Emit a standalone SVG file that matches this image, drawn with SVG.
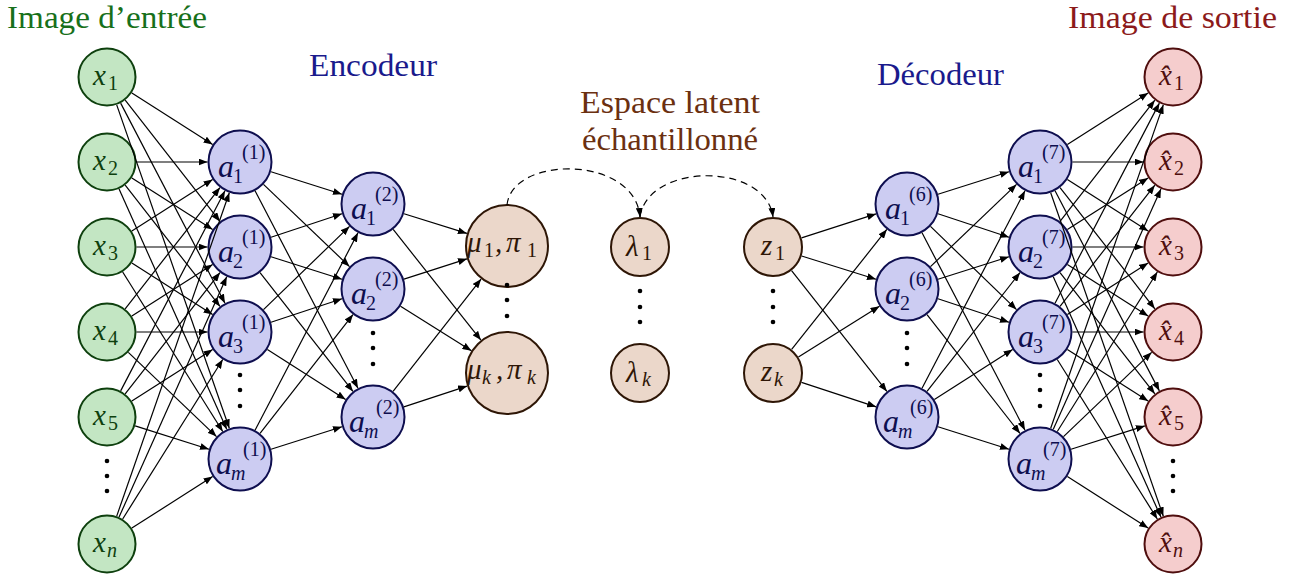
<svg xmlns="http://www.w3.org/2000/svg" width="1298" height="574" viewBox="0 0 1298 574" font-family="Liberation Serif">
<defs>
<marker id="ah" markerUnits="userSpaceOnUse" viewBox="0 0 9 7" refX="9" refY="3.5" markerWidth="9" markerHeight="7" orient="auto">
<path d="M0,0 L9,3.5 L0,7 Z" fill="#000"/>
</marker>
</defs>

<g id="titles" font-size="32">
<text font-family="Liberation Serif" font-size="32" x="7" y="28" fill="#17701a" textLength="200" lengthAdjust="spacingAndGlyphs">Image d’entrée</text>
<text font-family="Liberation Serif" font-size="32" x="309" y="76" fill="#1a1a8c" textLength="128" lengthAdjust="spacingAndGlyphs">Encodeur</text>
<text font-family="Liberation Serif" font-size="32" x="580" y="113" fill="#6b3010" textLength="180" lengthAdjust="spacingAndGlyphs">Espace latent</text>
<text font-family="Liberation Serif" font-size="32" x="582" y="150" fill="#6b3010" textLength="176" lengthAdjust="spacingAndGlyphs">échantillonné</text>
<text font-family="Liberation Serif" font-size="32" x="877" y="85" fill="#1a1a8c" textLength="127" lengthAdjust="spacingAndGlyphs">Décodeur</text>
<text font-family="Liberation Serif" font-size="32" x="1068" y="28" fill="#8c1a1a" textLength="209" lengthAdjust="spacingAndGlyphs">Image de sortie</text>
</g>

<g id="input-layer" fill="#0e400e">
<g id="x1"><circle cx="107" cy="77" r="28.5" fill="#c3e6c3" stroke="#0e400e" stroke-width="2"/><text font-family="Liberation Serif" font-style="italic" font-size="29" x="93" y="85">x</text><text font-family="Liberation Serif" font-size="20" x="108" y="90">1</text></g>
<g id="x2"><circle cx="107" cy="162" r="28.5" fill="#c3e6c3" stroke="#0e400e" stroke-width="2"/><text font-family="Liberation Serif" font-style="italic" font-size="29" x="93" y="170">x</text><text font-family="Liberation Serif" font-size="20" x="108" y="175">2</text></g>
<g id="x3"><circle cx="107" cy="247" r="28.5" fill="#c3e6c3" stroke="#0e400e" stroke-width="2"/><text font-family="Liberation Serif" font-style="italic" font-size="29" x="93" y="255">x</text><text font-family="Liberation Serif" font-size="20" x="108" y="260">3</text></g>
<g id="x4"><circle cx="107" cy="332" r="28.5" fill="#c3e6c3" stroke="#0e400e" stroke-width="2"/><text font-family="Liberation Serif" font-style="italic" font-size="29" x="93" y="340">x</text><text font-family="Liberation Serif" font-size="20" x="108" y="345">4</text></g>
<g id="x5"><circle cx="107" cy="417" r="28.5" fill="#c3e6c3" stroke="#0e400e" stroke-width="2"/><text font-family="Liberation Serif" font-style="italic" font-size="29" x="93" y="425">x</text><text font-family="Liberation Serif" font-size="20" x="108" y="430">5</text></g>
<g id="xn"><circle cx="107" cy="544" r="28.5" fill="#c3e6c3" stroke="#0e400e" stroke-width="2"/><text font-family="Liberation Serif" font-style="italic" font-size="29" x="93" y="552">x</text><text font-family="Liberation Serif" font-style="italic" font-size="20" x="107" y="557">n</text></g>
</g>

<g id="encoder-layer1" fill="#0e0e4f">
<g id="a1_1"><circle cx="240" cy="162" r="31.5" fill="#ccccf2" stroke="#0e0e4f" stroke-width="2"/><text font-family="Liberation Serif" font-style="italic" font-size="32" x="218" y="177">a</text><text font-family="Liberation Serif" font-size="20" x="233" y="183">1</text><text font-family="Liberation Serif" font-size="20" x="242" y="159">(1)</text></g>
<g id="a1_2"><circle cx="240" cy="247" r="31.5" fill="#ccccf2" stroke="#0e0e4f" stroke-width="2"/><text font-family="Liberation Serif" font-style="italic" font-size="32" x="218" y="262">a</text><text font-family="Liberation Serif" font-size="20" x="233" y="268">2</text><text font-family="Liberation Serif" font-size="20" x="242" y="244">(1)</text></g>
<g id="a1_3"><circle cx="240" cy="332" r="31.5" fill="#ccccf2" stroke="#0e0e4f" stroke-width="2"/><text font-family="Liberation Serif" font-style="italic" font-size="32" x="218" y="347">a</text><text font-family="Liberation Serif" font-size="20" x="233" y="353">3</text><text font-family="Liberation Serif" font-size="20" x="242" y="329">(1)</text></g>
<g id="a1_m"><circle cx="240" cy="459" r="31.5" fill="#ccccf2" stroke="#0e0e4f" stroke-width="2"/><text font-family="Liberation Serif" font-style="italic" font-size="32" x="216" y="474">a</text><text font-family="Liberation Serif" font-style="italic" font-size="20" x="231" y="480">m</text><text font-family="Liberation Serif" font-size="20" x="243" y="456">(1)</text></g>
</g>

<g id="encoder-layer2" fill="#0e0e4f">
<g id="a2_1"><circle cx="373" cy="204" r="31.5" fill="#ccccf2" stroke="#0e0e4f" stroke-width="2"/><text font-family="Liberation Serif" font-style="italic" font-size="32" x="351" y="219">a</text><text font-family="Liberation Serif" font-size="20" x="366" y="225">1</text><text font-family="Liberation Serif" font-size="20" x="375" y="201">(2)</text></g>
<g id="a2_2"><circle cx="373" cy="289" r="31.5" fill="#ccccf2" stroke="#0e0e4f" stroke-width="2"/><text font-family="Liberation Serif" font-style="italic" font-size="32" x="351" y="304">a</text><text font-family="Liberation Serif" font-size="20" x="366" y="310">2</text><text font-family="Liberation Serif" font-size="20" x="375" y="286">(2)</text></g>
<g id="a2_m"><circle cx="373" cy="417" r="31.5" fill="#ccccf2" stroke="#0e0e4f" stroke-width="2"/><text font-family="Liberation Serif" font-style="italic" font-size="32" x="349" y="432">a</text><text font-family="Liberation Serif" font-style="italic" font-size="20" x="364" y="438">m</text><text font-family="Liberation Serif" font-size="20" x="376" y="414">(2)</text></g>
</g>

<g id="latent" fill="#2e1606">
<g id="mu1"><circle cx="507" cy="246" r="41" fill="#ebd7ca" stroke="#2e1606" stroke-width="2"/><text font-family="Liberation Serif" font-style="italic" font-size="29" x="467" y="252">μ</text><text font-family="Liberation Serif" font-size="20" x="484" y="257">1</text><text font-family="Liberation Serif" font-style="italic" font-size="29" x="495" y="252">,</text><text font-family="Liberation Serif" font-style="italic" font-size="29" x="506" y="252">π</text><text font-family="Liberation Serif" font-size="20" x="527" y="257">1</text></g>
<g id="muk"><circle cx="507" cy="373" r="41" fill="#ebd7ca" stroke="#2e1606" stroke-width="2"/><text font-family="Liberation Serif" font-style="italic" font-size="29" x="467" y="379">μ</text><text font-family="Liberation Serif" font-style="italic" font-size="20" x="482" y="384">k</text><text font-family="Liberation Serif" font-style="italic" font-size="29" x="496" y="379">,</text><text font-family="Liberation Serif" font-style="italic" font-size="29" x="507" y="379">π</text><text font-family="Liberation Serif" font-style="italic" font-size="20" x="527" y="384">k</text></g>
<g id="lambda1"><circle cx="640" cy="247" r="29" fill="#ebd7ca" stroke="#2e1606" stroke-width="2"/><text font-family="Liberation Serif" font-style="italic" font-size="29" x="626" y="256">λ</text><text font-family="Liberation Serif" font-size="20" x="642" y="260">1</text></g>
<g id="lambdak"><circle cx="640" cy="373" r="29" fill="#ebd7ca" stroke="#2e1606" stroke-width="2"/><text font-family="Liberation Serif" font-style="italic" font-size="29" x="626" y="382">λ</text><text font-family="Liberation Serif" font-style="italic" font-size="20" x="642" y="386">k</text></g>
<g id="z1"><circle cx="773" cy="247" r="29" fill="#ebd7ca" stroke="#2e1606" stroke-width="2"/><text font-family="Liberation Serif" font-style="italic" font-size="29" x="761" y="255">z</text><text font-family="Liberation Serif" font-size="20" x="775" y="260">1</text></g>
<g id="zk"><circle cx="773" cy="373" r="29" fill="#ebd7ca" stroke="#2e1606" stroke-width="2"/><text font-family="Liberation Serif" font-style="italic" font-size="29" x="761" y="381">z</text><text font-family="Liberation Serif" font-style="italic" font-size="20" x="774" y="386">k</text></g>
</g>

<g id="decoder-layer6" fill="#0e0e4f">
<g id="a6_1"><circle cx="907" cy="204" r="31.5" fill="#ccccf2" stroke="#0e0e4f" stroke-width="2"/><text font-family="Liberation Serif" font-style="italic" font-size="32" x="885" y="219">a</text><text font-family="Liberation Serif" font-size="20" x="900" y="225">1</text><text font-family="Liberation Serif" font-size="20" x="909" y="201">(6)</text></g>
<g id="a6_2"><circle cx="907" cy="289" r="31.5" fill="#ccccf2" stroke="#0e0e4f" stroke-width="2"/><text font-family="Liberation Serif" font-style="italic" font-size="32" x="885" y="304">a</text><text font-family="Liberation Serif" font-size="20" x="900" y="310">2</text><text font-family="Liberation Serif" font-size="20" x="909" y="286">(6)</text></g>
<g id="a6_m"><circle cx="907" cy="417" r="31.5" fill="#ccccf2" stroke="#0e0e4f" stroke-width="2"/><text font-family="Liberation Serif" font-style="italic" font-size="32" x="883" y="432">a</text><text font-family="Liberation Serif" font-style="italic" font-size="20" x="898" y="438">m</text><text font-family="Liberation Serif" font-size="20" x="910" y="414">(6)</text></g>
</g>

<g id="decoder-layer7" fill="#0e0e4f">
<g id="a7_1"><circle cx="1040" cy="162" r="31.5" fill="#ccccf2" stroke="#0e0e4f" stroke-width="2"/><text font-family="Liberation Serif" font-style="italic" font-size="32" x="1018" y="177">a</text><text font-family="Liberation Serif" font-size="20" x="1033" y="183">1</text><text font-family="Liberation Serif" font-size="20" x="1042" y="159">(7)</text></g>
<g id="a7_2"><circle cx="1040" cy="247" r="31.5" fill="#ccccf2" stroke="#0e0e4f" stroke-width="2"/><text font-family="Liberation Serif" font-style="italic" font-size="32" x="1018" y="262">a</text><text font-family="Liberation Serif" font-size="20" x="1033" y="268">2</text><text font-family="Liberation Serif" font-size="20" x="1042" y="244">(7)</text></g>
<g id="a7_3"><circle cx="1040" cy="332" r="31.5" fill="#ccccf2" stroke="#0e0e4f" stroke-width="2"/><text font-family="Liberation Serif" font-style="italic" font-size="32" x="1018" y="347">a</text><text font-family="Liberation Serif" font-size="20" x="1033" y="353">3</text><text font-family="Liberation Serif" font-size="20" x="1042" y="329">(7)</text></g>
<g id="a7_m"><circle cx="1040" cy="459" r="31.5" fill="#ccccf2" stroke="#0e0e4f" stroke-width="2"/><text font-family="Liberation Serif" font-style="italic" font-size="32" x="1016" y="474">a</text><text font-family="Liberation Serif" font-style="italic" font-size="20" x="1031" y="480">m</text><text font-family="Liberation Serif" font-size="20" x="1043" y="456">(7)</text></g>
</g>

<g id="output-layer" fill="#4f0e0e">
<g id="xh1"><circle cx="1173" cy="77" r="28.5" fill="#f5cdcd" stroke="#4f0e0e" stroke-width="2"/><text font-family="Liberation Serif" font-style="italic" font-size="29" x="1159" y="85">x̂</text><text font-family="Liberation Serif" font-size="20" x="1174" y="90">1</text></g>
<g id="xh2"><circle cx="1173" cy="162" r="28.5" fill="#f5cdcd" stroke="#4f0e0e" stroke-width="2"/><text font-family="Liberation Serif" font-style="italic" font-size="29" x="1159" y="170">x̂</text><text font-family="Liberation Serif" font-size="20" x="1174" y="175">2</text></g>
<g id="xh3"><circle cx="1173" cy="247" r="28.5" fill="#f5cdcd" stroke="#4f0e0e" stroke-width="2"/><text font-family="Liberation Serif" font-style="italic" font-size="29" x="1159" y="255">x̂</text><text font-family="Liberation Serif" font-size="20" x="1174" y="260">3</text></g>
<g id="xh4"><circle cx="1173" cy="332" r="28.5" fill="#f5cdcd" stroke="#4f0e0e" stroke-width="2"/><text font-family="Liberation Serif" font-style="italic" font-size="29" x="1159" y="340">x̂</text><text font-family="Liberation Serif" font-size="20" x="1174" y="345">4</text></g>
<g id="xh5"><circle cx="1173" cy="417" r="28.5" fill="#f5cdcd" stroke="#4f0e0e" stroke-width="2"/><text font-family="Liberation Serif" font-style="italic" font-size="29" x="1159" y="425">x̂</text><text font-family="Liberation Serif" font-size="20" x="1174" y="430">5</text></g>
<g id="xhn"><circle cx="1173" cy="544" r="28.5" fill="#f5cdcd" stroke="#4f0e0e" stroke-width="2"/><text font-family="Liberation Serif" font-style="italic" font-size="29" x="1159" y="552">x̂</text><text font-family="Liberation Serif" font-style="italic" font-size="20" x="1173" y="557">n</text></g>
</g>

<g id="ellipses" fill="#000">
<circle cx="107" cy="461" r="2.3"/><circle cx="107" cy="476" r="2.3"/><circle cx="107" cy="491" r="2.3"/>
<circle cx="240" cy="375" r="2.3"/><circle cx="240" cy="390" r="2.3"/><circle cx="240" cy="406" r="2.3"/>
<circle cx="373" cy="333" r="2.3"/><circle cx="373" cy="348" r="2.3"/><circle cx="373" cy="364" r="2.3"/>
<circle cx="507" cy="285" r="2.3"/><circle cx="507" cy="300" r="2.3"/><circle cx="507" cy="316" r="2.3"/>
<circle cx="640" cy="291" r="2.3"/><circle cx="640" cy="307" r="2.3"/><circle cx="640" cy="322" r="2.3"/>
<circle cx="773" cy="291" r="2.3"/><circle cx="773" cy="307" r="2.3"/><circle cx="773" cy="322" r="2.3"/>
<circle cx="907" cy="333" r="2.3"/><circle cx="907" cy="348" r="2.3"/><circle cx="907" cy="364" r="2.3"/>
<circle cx="1040" cy="375" r="2.3"/><circle cx="1040" cy="390" r="2.3"/><circle cx="1040" cy="406" r="2.3"/>
<circle cx="1173" cy="461" r="2.3"/><circle cx="1173" cy="476" r="2.3"/><circle cx="1173" cy="491" r="2.3"/>
</g>

<g id="connectors" stroke="#000" stroke-width="1.2" fill="none" marker-end="url(#ah)">
<line x1="131.86" y1="92.89" x2="212.62" y2="144.50"/>
<line x1="125.18" y1="100.23" x2="219.97" y2="221.40"/>
<line x1="120.64" y1="103.15" x2="224.97" y2="303.19"/>
<line x1="116.70" y1="104.86" x2="229.31" y2="428.31"/>
<line x1="136.5" y1="162" x2="207.5" y2="162"/>
<line x1="131.86" y1="177.89" x2="212.62" y2="229.50"/>
<line x1="125.18" y1="185.23" x2="219.97" y2="306.40"/>
<line x1="119.06" y1="188.92" x2="226.72" y2="429.34"/>
<line x1="131.86" y1="231.11" x2="212.62" y2="179.50"/>
<line x1="136.5" y1="247" x2="207.5" y2="247"/>
<line x1="131.86" y1="262.89" x2="212.62" y2="314.50"/>
<line x1="122.68" y1="271.99" x2="222.73" y2="431.47"/>
<line x1="125.18" y1="308.77" x2="219.97" y2="187.60"/>
<line x1="131.86" y1="316.11" x2="212.62" y2="264.50"/>
<line x1="136.5" y1="332" x2="207.5" y2="332"/>
<line x1="128.33" y1="352.37" x2="216.50" y2="436.56"/>
<line x1="120.64" y1="390.85" x2="224.97" y2="190.81"/>
<line x1="125.18" y1="393.77" x2="219.97" y2="272.60"/>
<line x1="131.86" y1="401.11" x2="212.62" y2="349.50"/>
<line x1="135.13" y1="425.88" x2="209.01" y2="449.21"/>
<line x1="116.70" y1="516.14" x2="229.31" y2="192.69"/>
<line x1="119.06" y1="517.08" x2="226.72" y2="276.66"/>
<line x1="122.68" y1="519.01" x2="222.73" y2="359.53"/>
<line x1="131.86" y1="528.11" x2="212.62" y2="476.50"/>
<line x1="270.99" y1="171.79" x2="342.01" y2="194.21"/>
<line x1="263.50" y1="184.44" x2="349.50" y2="266.56"/>
<line x1="255.03" y1="190.81" x2="357.97" y2="388.19"/>
<line x1="270.99" y1="237.21" x2="342.01" y2="213.79"/>
<line x1="270.99" y1="256.79" x2="342.01" y2="279.21"/>
<line x1="260.03" y1="272.60" x2="352.97" y2="391.40"/>
<line x1="263.50" y1="309.56" x2="349.50" y2="226.44"/>
<line x1="270.99" y1="322.21" x2="342.01" y2="298.79"/>
<line x1="267.38" y1="349.50" x2="345.62" y2="399.50"/>
<line x1="255.03" y1="430.19" x2="357.97" y2="232.81"/>
<line x1="260.03" y1="433.40" x2="352.97" y2="314.60"/>
<line x1="270.99" y1="449.21" x2="342.01" y2="426.79"/>
<line x1="404.01" y1="213.72" x2="466.92" y2="233.44"/>
<line x1="393.19" y1="229.47" x2="480.91" y2="340.09"/>
<line x1="403.95" y1="279.07" x2="467.01" y2="258.84"/>
<line x1="400.54" y1="306.26" x2="471.41" y2="350.69"/>
<line x1="393.05" y1="391.42" x2="481.09" y2="279.06"/>
<line x1="403.88" y1="406.86" x2="467.10" y2="386.10"/>
<path stroke-dasharray="7 5" d="M507,205 C512,155 635,155 640,217"/>
<path stroke-dasharray="7 5" d="M640,217 C648,162 766,162 773,217"/>
<line x1="801.57" y1="237.83" x2="876.05" y2="213.93"/>
<line x1="801.63" y1="255.97" x2="875.99" y2="279.28"/>
<line x1="791.57" y1="270.55" x2="886.88" y2="391.49"/>
<line x1="791.64" y1="349.49" x2="886.81" y2="229.47"/>
<line x1="798.42" y1="357.07" x2="879.46" y2="306.26"/>
<line x1="801.50" y1="382.36" x2="876.12" y2="406.86"/>
<line x1="937.99" y1="194.21" x2="1009.01" y2="171.79"/>
<line x1="930.50" y1="266.56" x2="1016.50" y2="184.44"/>
<line x1="922.03" y1="388.19" x2="1024.97" y2="190.81"/>
<line x1="937.99" y1="213.79" x2="1009.01" y2="237.21"/>
<line x1="937.99" y1="279.21" x2="1009.01" y2="256.79"/>
<line x1="927.03" y1="391.40" x2="1019.97" y2="272.60"/>
<line x1="930.50" y1="226.44" x2="1016.50" y2="309.56"/>
<line x1="937.99" y1="298.79" x2="1009.01" y2="322.21"/>
<line x1="934.38" y1="399.50" x2="1012.62" y2="349.50"/>
<line x1="922.03" y1="232.81" x2="1024.97" y2="430.19"/>
<line x1="927.03" y1="314.60" x2="1019.97" y2="433.40"/>
<line x1="937.99" y1="426.79" x2="1009.01" y2="449.21"/>
<line x1="1067.38" y1="144.50" x2="1148.14" y2="92.89"/>
<line x1="1060.03" y1="221.40" x2="1154.82" y2="100.23"/>
<line x1="1055.03" y1="303.19" x2="1159.36" y2="103.15"/>
<line x1="1050.69" y1="428.31" x2="1163.30" y2="104.86"/>
<line x1="1072.5" y1="162" x2="1143.5" y2="162"/>
<line x1="1067.38" y1="229.50" x2="1148.14" y2="177.89"/>
<line x1="1060.03" y1="306.40" x2="1154.82" y2="185.23"/>
<line x1="1053.28" y1="429.34" x2="1160.94" y2="188.92"/>
<line x1="1067.38" y1="179.50" x2="1148.14" y2="231.11"/>
<line x1="1072.5" y1="247" x2="1143.5" y2="247"/>
<line x1="1067.38" y1="314.50" x2="1148.14" y2="262.89"/>
<line x1="1057.27" y1="431.47" x2="1157.32" y2="271.99"/>
<line x1="1060.03" y1="187.60" x2="1154.82" y2="308.77"/>
<line x1="1067.38" y1="264.50" x2="1148.14" y2="316.11"/>
<line x1="1072.5" y1="332" x2="1143.5" y2="332"/>
<line x1="1063.50" y1="436.56" x2="1151.67" y2="352.37"/>
<line x1="1055.03" y1="190.81" x2="1159.36" y2="390.85"/>
<line x1="1060.03" y1="272.60" x2="1154.82" y2="393.77"/>
<line x1="1067.38" y1="349.50" x2="1148.14" y2="401.11"/>
<line x1="1070.99" y1="449.21" x2="1144.87" y2="425.88"/>
<line x1="1050.69" y1="192.69" x2="1163.30" y2="516.14"/>
<line x1="1053.28" y1="276.66" x2="1160.94" y2="517.08"/>
<line x1="1057.27" y1="359.53" x2="1157.32" y2="519.01"/>
<line x1="1067.38" y1="476.50" x2="1148.14" y2="528.11"/>
</g>
</svg>
